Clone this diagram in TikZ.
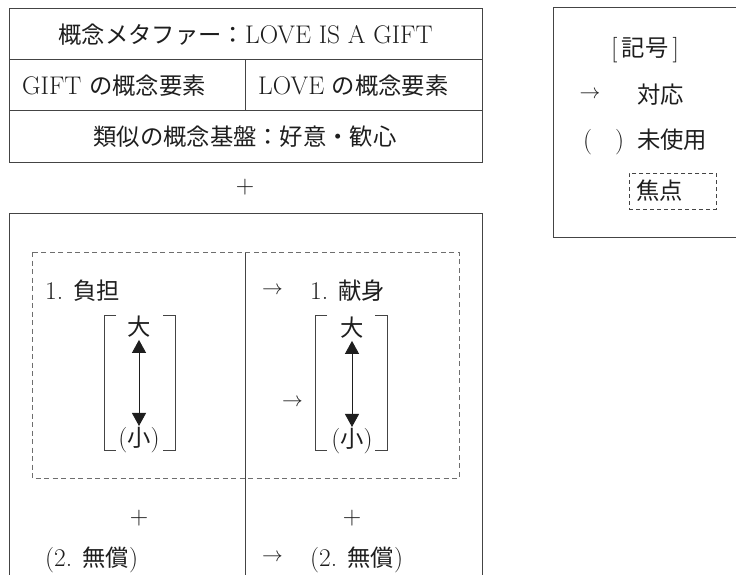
\documentclass[tikz,border=0pt]{standalone}
\usepackage{fontspec}
\newfontfamily\jp{Noto Sans CJK JP}[Scale=0.915]
\usetikzlibrary{arrows.meta}
\definecolor{ink}{HTML}{1E1E1E}
\definecolor{rulec}{HTML}{444444}
\definecolor{dashc}{HTML}{6E6E6E}
\newcommand{\arr}{{\fontsize{21}{24}\selectfont$\rightarrow$}}
\begin{document}
\begin{tikzpicture}[x=1pt,y=-1pt,
  font=\fontsize{25.5}{30}\selectfont,
  frame/.style={draw=rulec, line width=1pt},
  fdash/.style={draw=dashc, line width=1pt, dash pattern=on 5pt off 3.5pt},
  txt/.style={inner sep=0pt, text=ink},
  brk/.style={draw=rulec, line width=0.9pt},
  dbl/.style={{Triangle[width=14pt,length=13pt]}-{Triangle[width=14pt,length=13pt]},
              line width=0.9pt, draw=ink, shorten <=2pt, shorten >=1pt},
  legdash/.style={draw=rulec, line width=0.9pt, dash pattern=on 4pt off 3pt,
              inner xsep=7pt, text width=73pt, minimum height=36pt, text=ink}]
\useasboundingbox (0,0) rectangle (736,575);

% ---- top box ----
\draw[frame] (9,9) rectangle (482,162);
\draw[frame] (9,60) -- (482,60);
\draw[frame] (9,111) -- (482,111);
\draw[frame] (245,60) -- (245,111);
\node[txt, anchor=base] (t1) at (245.5,43.7) {{\jp 概念メタファー：}LOVE IS A GIFT};
\node[txt, anchor=base west] (t2) at (22,94.7) {GIFT {\jp の概念要素}};
\node[txt, anchor=base west] (t3) at (258,94.7) {LOVE {\jp の概念要素}};
\node[txt, anchor=base] (t4) at (245,146) {\jp 類似の概念基盤：好意・歓心};

\node[txt] (plus0) at (245,187) {+};

% ---- lower box ----
\draw[frame] (9,575) -- (9,213) -- (482,213) -- (482,575);
\draw[frame] (245,252) -- (245,575);
\draw[fdash] (32,252) rectangle (459,478);

\node[txt, anchor=base west] (l1) at (45,299.5) {1. {\jp 負担}};
\node[txt] (ar1) at (272.5,291) {\arr};
\node[txt, anchor=base west] (r1) at (310,299.5) {1. {\jp 献身}};

% brackets
\draw[brk] (116,315) -- (104,315) -- (104,450) -- (116,450);
\draw[brk] (163,315) -- (175,315) -- (175,450) -- (163,450);
\draw[brk] (327,315) -- (315,315) -- (315,450) -- (327,450);
\draw[brk] (375,315) -- (387,315) -- (387,450) -- (375,450);

\node[txt] (big1) at (139,327) {\jp 大};
\node[txt] (small1) at (139,440) {({\jp 小})};
\draw[dbl] (big1) -- (small1);

\node[txt] (big2) at (352,328) {\jp 大};
\node[txt] (small2) at (352,441) {({\jp 小})};
\draw[dbl] (big2) -- (small2);

\node[txt] (ar2) at (292.5,403) {\arr};

\node[txt] (plus1) at (139,518) {+};
\node[txt] (plus2) at (352,518) {+};

\node[txt, anchor=base west] (l2) at (45,566.7) {(2. {\jp 無償})};
\node[txt] (ar3) at (272.5,558) {\arr};
\node[txt, anchor=base west] (r2) at (310,566.7) {(2. {\jp 無償})};

% ---- legend ----
\draw[frame] (736,8) -- (553,8) -- (553,237) -- (736,237);
\node[txt] (lh) at (645,50) {[\,{\jp 記号}\,]};
\node[txt] (la) at (590,95) {\arr};
\node[txt, anchor=base west] (lt1) at (637,103.7) {\jp 対応};
\node[txt, anchor=base west] (lp) at (583,148.7) {(\hspace{23pt})};
\node[txt, anchor=base west] (lt2) at (637,148.7) {\jp 未使用};
\node[legdash, anchor=west] (lf) at (629,191) {\jp 焦点};
\end{tikzpicture}
\end{document}
